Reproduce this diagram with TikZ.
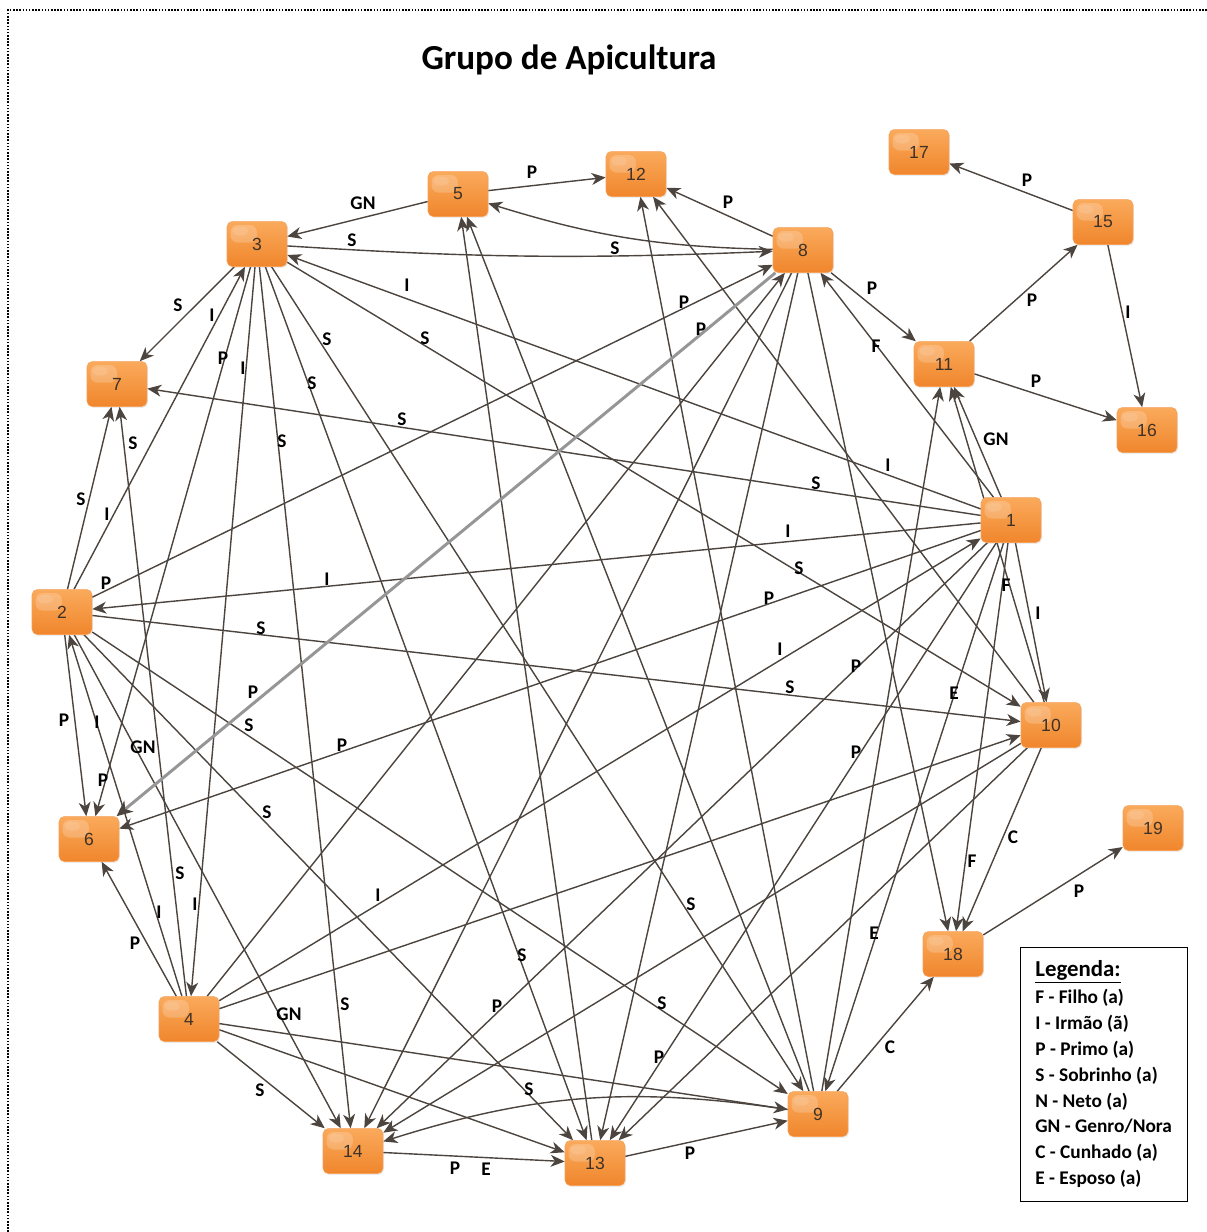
\documentclass[tikz,border=0pt]{standalone}
\usepackage{fontspec}
\setmainfont{Carlito}
\newfontfamily\numfont{Liberation Sans}
\usetikzlibrary{arrows.meta,shadows,backgrounds}
\definecolor{ndtop}{RGB}{250,170,92}
\definecolor{ndbot}{RGB}{240,134,44}
\definecolor{ndborder}{RGB}{246,160,88}
\definecolor{ndtext}{RGB}{62,50,40}
\definecolor{edgecol}{RGB}{76,68,62}
\definecolor{grayedge}{RGB}{150,150,150}
\newcounter{lbc}
\newcommand\rlab[2]{\stepcounter{lbc}\node[lbl] (lab\arabic{lbc}) at (#1) {#2};}
\newcommand\legitem[2]{\stepcounter{lbc}\node[lgtext] (leg\arabic{lbc}) at (1035,#1) {#2};}
\begin{document}
\begin{tikzpicture}[x=0.02cm,y=-0.02cm,
  nd/.style={rectangle, rounded corners=3pt, minimum width=1.2cm, minimum height=0.9cm,
    inner sep=0pt, draw=ndborder, line width=0.3pt, top color=ndtop, bottom color=ndbot,
    text=ndtext, font=\numfont\fontsize{10}{12}\selectfont,
    drop shadow={opacity=0.15, shadow xshift=0.6pt, shadow yshift=-0.8pt},
    path picture={\fill[white,opacity=0.2,rounded corners=4pt]
      ([shift={(2pt,-2pt)}]path picture bounding box.north west) rectangle
      ([shift={(17pt,-12pt)}]path picture bounding box.north west);
      \fill[white,opacity=0.12,rounded corners=3pt]
      ([shift={(3pt,-3pt)}]path picture bounding box.north west) rectangle
      ([shift={(12pt,-8pt)}]path picture bounding box.north west);}},
  rel/.style={draw=edgecol, line width=0.8pt, -{Stealth[length=8pt,width=6.8pt,inset=2.4pt]}},
  grel/.style={draw=grayedge, line width=1.7pt, -{Stealth[length=9pt,width=8pt,inset=2.6pt,color=edgecol]}},
  lbl/.style={font=\bfseries\fontsize{11}{13}\selectfont, inner sep=0pt, text=black},
  lgtext/.style={font=\bfseries\fontsize{11}{13}\selectfont, inner sep=0pt, anchor=base west},
]
\useasboundingbox (0,0) rectangle (1207,1232);
% border
\draw[line width=0.9pt, dash pattern=on 0.9pt off 0.9pt] (8,1232) -- (8,10) -- (1207,10);
% title
\node[font=\bfseries\fontsize{20}{24}\selectfont, anchor=base, inner sep=0pt] (title) at (569,69) {Grupo de Apicultura};
% nodes
\node[nd] (n1) at (1011,520) {1};
\node[nd] (n2) at (62,612) {2};
\node[nd] (n3) at (257,244) {3};
\node[nd] (n4) at (189,1019) {4};
\node[nd] (n5) at (458,194) {5};
\node[nd] (n6) at (89,839) {6};
\node[nd] (n7) at (117,384) {7};
\node[nd] (n8) at (803,250) {8};
\node[nd] (n9) at (818,1114) {9};
\node[nd] (n10) at (1051,725) {10};
\node[nd] (n11) at (944,364) {11};
\node[nd] (n12) at (636,174) {12};
\node[nd] (n13) at (595,1163) {13};
\node[nd] (n14) at (353,1151) {14};
\node[nd] (n15) at (1103,222) {15};
\node[nd] (n16) at (1147,430) {16};
\node[nd] (n17) at (919,152) {17};
\node[nd] (n18) at (953,954) {18};
\node[nd] (n19) at (1153,828) {19};
% edges
\begin{scope}[on background layer]
\draw[rel] (n5) -- (n3);
\draw[rel] (n3) to[bend right=3] (n8);
\draw[rel] (n5) -- (n12);
\draw[rel] (n8) -- (n12);
\draw[rel] (n8) to[bend left=8] (n5);
\draw[rel] (n8) -- (n11);
\draw[rel] (n1) -- (n8);
\draw[rel] (n11) -- (n15);
\draw[rel] (n15) -- (n17);
\draw[rel] (n15) -- (n16);
\draw[rel] (n11) -- (n16);
\draw[rel] (n1) -- (n11);
\draw[rel] (n1) -- (n3);
\draw[rel] (n3) -- (n10);
\draw[rel] (n3) -- (n7);
\draw[rel] (n2) -- (n3);
\draw[rel] (n3) -- (n6);
\draw[rel] (n3) -- (n4);
\draw[rel] (n3) -- (n14);
\draw[rel] (n3) -- (n13);
\draw[rel] (n3) -- (n9);
\draw[rel] (n1) -- (n7);
\draw[rel] (n2) -- (n7);
\draw[rel] (n4) -- (n7);
\draw[rel] (n2) -- (n8);
\draw[rel] (n1) -- (n2);
\draw[rel] (n2) -- (n10);
\draw[rel] (n2) -- (n6);
\draw[rel] (n4) -- (n2);
\draw[rel] (n2) -- (n14);
\draw[rel] (n2) -- (n9);
\draw[rel] (n2) -- (n13);
\draw[rel] (n1) -- (n6);
\draw[rel] (n4) -- (n6);
\draw[rel] (n4) -- (n8);
\draw[rel] (n4) -- (n1);
\draw[rel] (n4) -- (n14);
\draw[rel] (n4) -- (n13);
\draw[rel] (n4) -- (n9);
\draw[rel] (n4) -- (n10);
\draw[rel] (n1) -- (n10);
\draw[rel] (n1) -- (n9);
\draw[rel] (n1) -- (n18);
\draw[rel] (n10) -- (n18);
\draw[rel] (n9) -- (n18);
\draw[rel] (n18) -- (n19);
\draw[rel] (n14) -- (n13);
\draw[rel] (n13) -- (n9);
\draw[rel] (n9) to[bend right=13] (n14);
\draw[rel] (n1) -- (n14);
\draw[rel] (n1) -- (n13);
\draw[rel] (n8) -- (n14);
\draw[rel] (n8) -- (n13);
\draw[rel] (n8) -- (n18);
\draw[rel] (n10) -- (n12);
\draw[rel] (n9) -- (n12);
\draw[rel] (n13) -- (n5);
\draw[rel] (n9) -- (n5);
\draw[rel] (n10) -- (n14);
\draw[rel] (n9) -- (n11);
\draw[rel] (n10) -- (n11);
\draw[rel] (n10) -- (n13);
\draw[grel] (n8) -- (n6);
\end{scope}
% edge labels
\rlab{363,203}{GN} \rlab{532,172}{P} \rlab{352,240}{S} \rlab{615,248}{S}
\rlab{728,202}{P} \rlab{872,288}{P} \rlab{876,346}{F} \rlab{1032,300}{P}
\rlab{1027,180}{P} \rlab{1128,312}{I} \rlab{1036,381}{P} \rlab{996,439}{GN}
\rlab{407,285}{I} \rlab{888,465}{I} \rlab{425,338}{S} \rlab{799,568}{S}
\rlab{178,305}{S} \rlab{212,315}{I} \rlab{107,514}{I} \rlab{223,358}{P}
\rlab{103,780}{P} \rlab{243,368}{I} \rlab{195,904}{I} \rlab{282,441}{S}
\rlab{345,1004}{S} \rlab{312,383}{S} \rlab{522,955}{S} \rlab{327,339}{S}
\rlab{691,904}{S} \rlab{402,419}{S} \rlab{816,483}{S} \rlab{81,499}{S}
\rlab{133,443}{S} \rlab{180,873}{S} \rlab{106,583}{P} \rlab{684,302}{P}
\rlab{327,579}{I} \rlab{788,531}{I} \rlab{261,628}{S} \rlab{790,687}{S}
\rlab{64,720}{P} \rlab{97,722}{I} \rlab{159,912}{I} \rlab{143,747}{GN}
\rlab{289,1014}{GN} \rlab{249,725}{S} \rlab{662,1003}{S} \rlab{267,812}{S}
\rlab{529,1089}{S} \rlab{701,329}{P} \rlab{253,692}{P} \rlab{342,745}{P}
\rlab{769,598}{P} \rlab{135,943}{P} \rlab{378,895}{I} \rlab{780,649}{I}
\rlab{260,1090}{S} \rlab{1038,613}{I} \rlab{954,693}{E} \rlab{874,933}{E}
\rlab{1006,585}{F} \rlab{972,861}{F} \rlab{1013,837}{C} \rlab{890,1047}{C}
\rlab{1079,891}{P} \rlab{455,1168}{P} \rlab{486,1169}{E} \rlab{690,1153}{P}
\rlab{856,666}{P} \rlab{497,1006}{P} \rlab{856,752}{P} \rlab{659,1057}{P}
% legend
\node[draw=black, line width=0.6pt, minimum width=3.34cm, minimum height=5.08cm, inner sep=0pt, anchor=north west] (legend) at (1020,947) {};
\node[font=\bfseries\fontsize{13}{15}\selectfont, inner sep=0pt, anchor=base west] (legtitle) at (1035,976) {\underline{Legenda:}};
\legitem{1003}{F - Filho (a)}
\legitem{1029}{I - Irmão (ã)}
\legitem{1055}{P - Primo (a)}
\legitem{1081}{S - Sobrinho (a)}
\legitem{1107}{N - Neto (a)}
\legitem{1132}{GN - Genro/Nora}
\legitem{1158}{C - Cunhado (a)}
\legitem{1184}{E - Esposo (a)}
\end{tikzpicture}
\end{document}
